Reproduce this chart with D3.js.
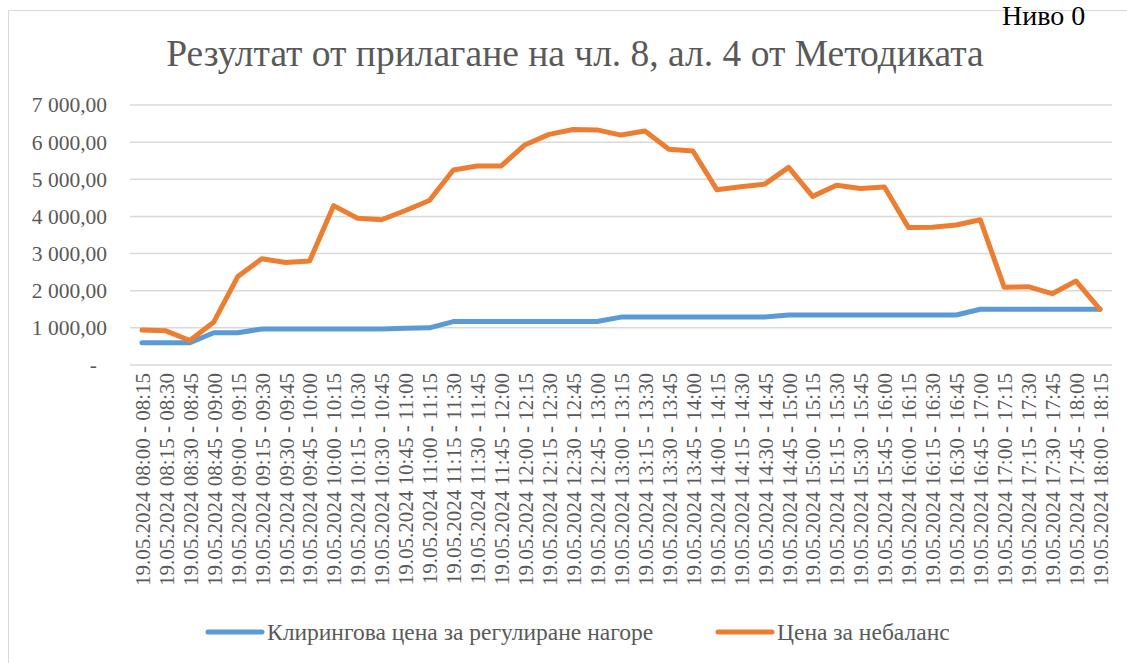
<!DOCTYPE html>
<html>
<head>
<meta charset="utf-8">
<script src="https://cdn.jsdelivr.net/npm/d3@7"></script>
<style>
  body { margin: 0; background: #fff; }
</style>
</head>
<body>
<div id="chart"></div>
<script>
// time slots, 19.05.2024
var slots = ["08:00","08:15","08:30","08:45","09:00","09:15","09:30","09:45","10:00","10:15",
             "10:30","10:45","11:00","11:15","11:30","11:45","12:00","12:15","12:30","12:45",
             "13:00","13:15","13:30","13:45","14:00","14:15","14:30","14:45","15:00","15:15",
             "15:30","15:45","16:00","16:15","16:30","16:45","17:00","17:15","17:30","17:45",
             "18:00","18:15"];
var categories = slots.slice(0, -1).map(function(s, i){
  return "19.05.2024 " + s + " - " + slots[i + 1];
});

// Клирингова цена за регулиране нагоре
var clearingPrice = [600, 600, 600, 870, 870, 970, 970, 970, 970, 970,
                     970, 990, 1000, 1170, 1170, 1170, 1170, 1170, 1170, 1170,
                     1290, 1290, 1290, 1290, 1290, 1290, 1290, 1345, 1345, 1345,
                     1345, 1345, 1345, 1345, 1345, 1500, 1500, 1500, 1500, 1500,
                     1500];
// Цена за небаланс
var imbalancePrice = [940, 920, 660, 1160, 2380, 2860, 2760, 2800, 4290, 3950,
                      3910, 4160, 4430, 5250, 5360, 5360, 5930, 6210, 6340, 6330,
                      6190, 6300, 5810, 5760, 4720, 4800, 4870, 5320, 4540, 4840,
                      4750, 4790, 3700, 3710, 3770, 3910, 2090, 2110, 1920, 2260,
                      1500];
var yTicks = [0, 1000, 2000, 3000, 4000, 5000, 6000, 7000];
var seriesNames = ["Клирингова цена за регулиране нагоре", "Цена за небаланс"];
var colors = ["#5B9BD5", "#ED7D31"];

var serif = "'Liberation Serif', Tinos, 'Times New Roman', Times, 'DejaVu Serif', serif";
var width = 1127, height = 663;
var plot = {left: 130, right: 1112, top: 105, bottom: 365};

var svg = d3.select("#chart").append("svg")
    .attr("width", width)
    .attr("height", height)
    .style("font-family", serif);

// chart area border (cut by the page edge)
svg.append("path")
    .attr("d", "M8.5," + height + "V10.5H" + width)
    .attr("fill", "none")
    .attr("stroke", "#D9D9D9")
    .attr("stroke-width", 1);

svg.append("text")
    .attr("x", 1002).attr("y", 25)
    .attr("font-size", 28)
    .attr("fill", "#000")
    .style("font-family", serif)
    .text("Ниво 0");

svg.append("text")
    .attr("x", 575).attr("y", 66)
    .attr("text-anchor", "middle")
    .attr("font-size", 37.5)
    .attr("fill", "#595959")
    .style("font-family", serif)
    .text("Резултат от прилагане на чл. 8, ал. 4 от Методиката");

var x = d3.scalePoint()
    .domain(categories)
    .range([plot.left, plot.right])
    .padding(0.5);

var y = d3.scaleLinear()
    .domain([0, 7000])
    .range([plot.bottom, plot.top]);

// number format like "7 000,00"
var fmt = function(v){
  if (v === 0) return "-";
  return d3.format(",.2f")(v).replace(/,/g, " ").replace(".", ",");
};

// gridlines
svg.append("g")
    .selectAll("line")
    .data(yTicks)
    .enter().append("line")
    .attr("x1", plot.left).attr("x2", plot.right)
    .attr("y1", function(d){ return y(d); })
    .attr("y2", function(d){ return y(d); })
    .attr("stroke", "#D9D9D9")
    .attr("stroke-width", 1.5);

// y axis labels
var yAxis = svg.append("g")
    .attr("transform", "translate(" + (plot.left - 23) + ",0)")
    .call(d3.axisLeft(y).tickValues(yTicks).tickFormat(fmt).tickSize(0).tickPadding(0));
yAxis.attr("font-family", null).attr("font-size", null);
yAxis.select(".domain").remove();
yAxis.selectAll("text")
    .style("font-family", serif)
    .attr("font-size", 21.5)
    .attr("fill", "#595959")
    .attr("dx", function(d){ return d === 0 ? -10 : 0; });

// x axis labels, rotated
var xAxis = svg.append("g")
    .attr("transform", "translate(0," + plot.bottom + ")")
    .call(d3.axisBottom(x).tickSize(0).tickPadding(0));
xAxis.attr("font-family", null).attr("font-size", null);
xAxis.select(".domain").remove();
xAxis.selectAll("text")
    .style("font-family", serif)
    .attr("font-size", 21)
    .attr("fill", "#595959")
    .attr("transform", "rotate(-90)")
    .attr("text-anchor", "end")
    .attr("x", -8)
    .attr("y", 0)
    .attr("dy", "0.35em");

// series lines
var line = d3.line()
    .x(function(d, i){ return x(categories[i]); })
    .y(function(d){ return y(d); });

[clearingPrice, imbalancePrice].forEach(function(vals, k){
  svg.append("path")
      .datum(vals)
      .attr("d", line)
      .attr("fill", "none")
      .attr("stroke", colors[k])
      .attr("stroke-width", 5)
      .attr("stroke-linejoin", "round")
      .attr("stroke-linecap", "round");
});

// legend
var legendX = [208, 718];
var legend = svg.append("g");
seriesNames.forEach(function(name, k){
  legend.append("line")
      .attr("x1", legendX[k]).attr("x2", legendX[k] + 54)
      .attr("y1", 632).attr("y2", 632)
      .attr("stroke", colors[k])
      .attr("stroke-width", 5)
      .attr("stroke-linecap", "round");
  legend.append("text")
      .attr("x", legendX[k] + 59).attr("y", 632)
      .attr("dy", "0.35em")
      .attr("font-size", 23.5)
      .attr("fill", "#595959")
      .style("font-family", serif)
      .text(name);
});
</script>
</body>
</html>
